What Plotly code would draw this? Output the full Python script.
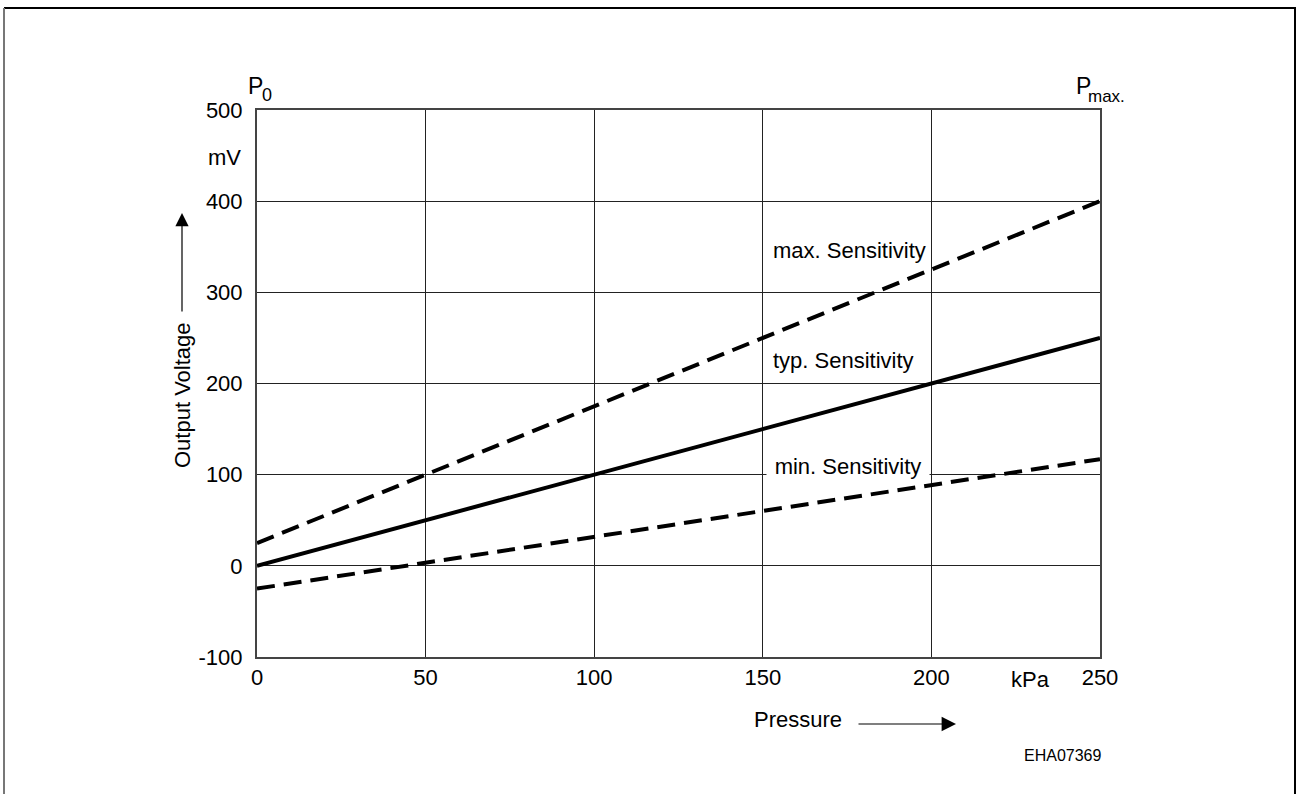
import plotly.graph_objects as go

pressure = [0, 250]
max_sens = [25, 400]
typ_sens = [0, 250]
min_sens = [-25, 117]

x_ticks = [0, 50, 100, 150, 200, 250]
y_ticks = [-100, 0, 100, 200, 300, 400, 500]

W, H = 1296, 794
L, R, T, B = 257, 1100, 110, 657

def px(x):
    return (x - L) / (R - L)

def py(y):
    return (B - y) / (B - T)

FONT = "Liberation Sans, Arial, sans-serif"

fig = go.Figure()
fig.add_trace(go.Scatter(x=pressure, y=max_sens, mode="lines",
                         line=dict(color="black", width=4, dash="18px,9px"), showlegend=False))
fig.add_trace(go.Scatter(x=pressure, y=typ_sens, mode="lines",
                         line=dict(color="black", width=4), showlegend=False))
fig.add_trace(go.Scatter(x=pressure, y=min_sens, mode="lines",
                         line=dict(color="black", width=4, dash="18px,9px"), showlegend=False))


def txt(x, y, s, size=22, xa="center", ya="middle", **kw):
    d = dict(x=px(x), y=py(y), xref="paper", yref="paper", text=s, showarrow=False,
             xanchor=xa, yanchor=ya, font=dict(size=size, color="black", family=FONT))
    d.update(kw)
    return d


ann = [
    txt(771, 251, "max. Sensitivity", xa="left"),
    txt(771, 360, "typ. Sensitivity", xa="left"),
    txt(847.5, 466, "min. Sensitivity", bgcolor="white", width=162, borderpad=0),
    txt(1030, 679, "kPa"),
    txt(243, 157, "mV", xa="right"),
    txt(255, 86, "P", size=23),
    txt(266.5, 95, "0", size=18),
    txt(1083.5, 86, "P", size=23),
    txt(1106.5, 96, "max.", size=17),
    txt(182, 395, "Output Voltage", textangle=-90),
    txt(797.5, 720, "Pressure"),
    txt(1062, 755.5, "EHA07369", size=16),
    # arrows
    dict(x=px(182), y=py(213), ax=0, ay=100, xref="paper", yref="paper",
         axref="pixel", ayref="pixel", text="", showarrow=True, arrowhead=2,
         arrowsize=2.2, arrowwidth=1.2, arrowcolor="black"),
    dict(x=px(956), y=py(724), ax=-99, ay=0, xref="paper", yref="paper",
         axref="pixel", ayref="pixel", text="", showarrow=True, arrowhead=2,
         arrowsize=2.4, arrowwidth=1.2, arrowcolor="black"),
]

shapes = [
    dict(type="line", xref="paper", yref="paper", x0=px(4), x1=px(1296), y0=py(8), y1=py(8),
         line=dict(color="black", width=2)),
    dict(type="line", xref="paper", yref="paper", x0=px(4), x1=px(4), y0=py(8), y1=py(794),
         line=dict(color="#777777", width=2)),
    dict(type="line", xref="paper", yref="paper", x0=px(1295), x1=px(1295), y0=py(8), y1=py(794),
         line=dict(color="black", width=2)),
]

fig.update_layout(
    width=W, height=H,
    margin=dict(l=L, r=W - R, t=T, b=H - B, pad=0),
    paper_bgcolor="white", plot_bgcolor="white",
    annotations=ann, shapes=shapes,
    font=dict(family=FONT, size=22, color="black"),
)
fig.update_xaxes(range=[0, 250], tickvals=x_ticks, ticktext=[str(v) for v in x_ticks],
                 showgrid=True, gridcolor="#222222", gridwidth=1, zeroline=False,
                 showline=True, linecolor="#444444", linewidth=2, mirror=True,
                 ticks="", tickfont=dict(size=22, family=FONT, color="black"))
fig.update_yaxes(range=[-100, 500], tickvals=y_ticks, ticktext=[str(v) for v in y_ticks],
                 showgrid=True, gridcolor="#222222", gridwidth=1, zeroline=False,
                 showline=True, linecolor="#444444", linewidth=2, mirror=True,
                 ticks="", ticklabelstandoff=8, tickfont=dict(size=22, family=FONT, color="black"))

fig.write_html("out.html", config={"displayModeBar": False},
               post_script="document.body.style.margin='0';document.body.style.overflow='hidden';")
